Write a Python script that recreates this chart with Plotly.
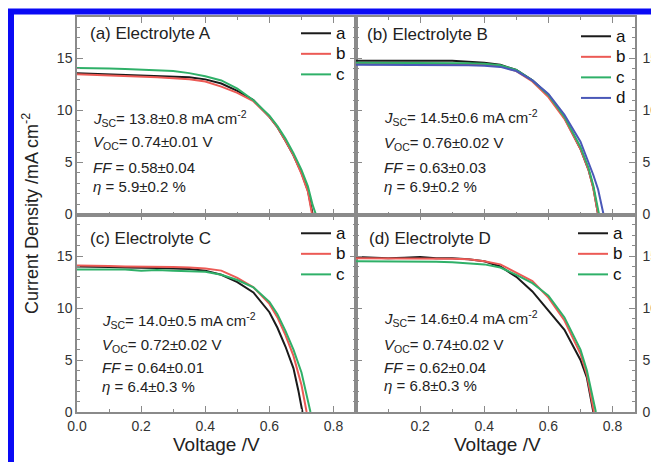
import plotly.graph_objects as go
from plotly.subplots import make_subplots

# ---------------- data ----------------
V_grid = [0.0, 0.05, 0.1, 0.15, 0.2, 0.25, 0.3, 0.35, 0.4, 0.45, 0.5, 0.55, 0.6, 0.625, 0.65, 0.675, 0.7, 0.72]

# Panel (a) Electrolyte A
A_a_V = V_grid + [0.735]
A_a_J = [13.6, 13.55, 13.5, 13.45, 13.4, 13.35, 13.3, 13.2, 13.0, 12.6, 11.9, 11.0, 9.4, 8.4, 7.1, 5.7, 4.0, 2.3, 0.0]
A_b_V = V_grid + [0.733]
A_b_J = [13.5, 13.45, 13.4, 13.35, 13.3, 13.2, 13.1, 13.0, 12.8, 12.3, 11.7, 10.9, 9.4, 8.4, 7.1, 5.7, 3.9, 2.2, 0.0]
A_c_V = V_grid + [0.735, 0.745]
A_c_J = [14.1, 14.1, 14.05, 14.0, 13.95, 13.9, 13.8, 13.6, 13.3, 12.9, 12.1, 11.0, 9.5, 8.5, 7.3, 5.9, 4.3, 2.7, 0.9, 0.0]

# Panel (b) Electrolyte B
B_V = [0.0, 0.05, 0.1, 0.15, 0.2, 0.25, 0.3, 0.35, 0.4, 0.45, 0.5, 0.55, 0.6, 0.65, 0.7, 0.725, 0.74]
B_a_V = B_V + [0.755]
B_a_J = [14.8, 14.8, 14.75, 14.8, 14.8, 14.75, 14.8, 14.7, 14.6, 14.4, 13.9, 12.9, 11.5, 9.3, 6.3, 4.3, 2.6, 0.0]
B_b_V = B_V + [0.755]
B_b_J = [14.5, 14.45, 14.5, 14.45, 14.5, 14.5, 14.45, 14.45, 14.4, 14.3, 13.8, 12.8, 11.3, 9.2, 6.3, 4.3, 2.5, 0.0]
B_c_V = B_V + [0.758]
B_c_J = [14.6, 14.6, 14.55, 14.6, 14.6, 14.55, 14.6, 14.55, 14.5, 14.35, 13.9, 12.9, 11.5, 9.4, 6.5, 4.5, 2.8, 0.0]
B_d_V = B_V + [0.755, 0.772]
B_d_J = [14.4, 14.4, 14.35, 14.4, 14.4, 14.35, 14.4, 14.35, 14.3, 14.2, 13.8, 12.9, 11.6, 9.6, 7.0, 5.1, 3.8, 2.4, 0.0]

# Panel (c) Electrolyte C
C_V = [0.0, 0.05, 0.1, 0.15, 0.2, 0.25, 0.3, 0.35, 0.4, 0.45, 0.5, 0.55, 0.6, 0.625, 0.65, 0.675]
C_a_V = C_V + [0.69, 0.703]
C_a_J = [14.0, 14.0, 13.95, 13.9, 13.9, 13.85, 13.8, 13.75, 13.6, 13.2, 12.5, 11.5, 9.6, 8.1, 6.3, 4.2, 2.1, 0.0]
C_b_V = C_V + [0.7, 0.716]
C_b_J = [14.1, 14.1, 14.05, 14.0, 14.0, 14.0, 13.95, 13.9, 13.8, 13.6, 12.9, 12.0, 10.4, 9.1, 7.4, 5.4, 2.6, 0.0]
C_c_V = C_V + [0.7, 0.728]
C_c_J = [13.7, 13.7, 13.65, 13.7, 13.6, 13.65, 13.6, 13.55, 13.5, 13.2, 12.7, 12.0, 10.6, 9.4, 7.8, 6.0, 3.8, 0.0]

# Panel (d) Electrolyte D
D_V = [0.0, 0.05, 0.1, 0.15, 0.2, 0.25, 0.3, 0.35, 0.4, 0.45, 0.5, 0.55, 0.6, 0.65, 0.7, 0.72]
D_a_V = D_V + [0.74]
D_a_J = [14.9, 14.85, 14.8, 14.85, 14.9, 14.8, 14.8, 14.7, 14.5, 14.0, 13.0, 11.6, 9.8, 7.9, 5.0, 3.3, 0.0]
D_b_V = D_V + [0.742]
D_b_J = [14.8, 14.8, 14.75, 14.8, 14.8, 14.8, 14.75, 14.7, 14.5, 14.2, 13.4, 12.6, 11.0, 8.8, 5.6, 3.6, 0.0]
D_c_V = D_V + [0.748]
D_c_J = [14.5, 14.5, 14.5, 14.45, 14.5, 14.45, 14.4, 14.3, 14.2, 13.9, 13.2, 12.4, 11.2, 9.1, 6.0, 4.0, 0.0]

panel_titles = ["(a) Electrolyte A", "(b) Electrolyte B", "(c) Electrolyte C", "(d) Electrolyte D"]
stats = [
    ["13.8±0.8", "0.74±0.01", "0.58±0.04", "5.9±0.2"],
    ["14.5±0.6", "0.76±0.02", "0.63±0.03", "6.9±0.2"],
    ["14.0±0.5", "0.72±0.02", "0.64±0.01", "6.4±0.3"],
    ["14.6±0.4", "0.74±0.02", "0.62±0.04", "6.8±0.3"],
]
x_ticks = [0.0, 0.2, 0.4, 0.6, 0.8]
y_ticks = [0, 5, 10, 15]

COLORS = {"a": "#1a1a1a", "b": "#ec5a55", "c": "#2fb068", "d": "#4a58b8"}
FONT = "Arial, Liberation Sans, sans-serif"

panels = [
    (1, 1, "legend",  [("a", A_a_V, A_a_J), ("b", A_b_V, A_b_J), ("c", A_c_V, A_c_J)]),
    (1, 2, "legend2", [("a", B_a_V, B_a_J), ("b", B_b_V, B_b_J), ("c", B_c_V, B_c_J), ("d", B_d_V, B_d_J)]),
    (2, 1, "legend3", [("a", C_a_V, C_a_J), ("b", C_b_V, C_b_J), ("c", C_c_V, C_c_J)]),
    (2, 2, "legend4", [("a", D_a_V, D_a_J), ("b", D_b_V, D_b_J), ("c", D_c_V, D_c_J)]),
]

fig = make_subplots(rows=2, cols=2, horizontal_spacing=0, vertical_spacing=0)

for row, col, leg, curves in panels:
    for name, vv, jj in curves:
        fig.add_trace(go.Scatter(x=vv, y=jj, mode="lines",
                                 name=f'<span style="font-size:17px">{name}</span>', legend=leg,
                                 line=dict(color=COLORS[name], width=2)), row=row, col=col)

W, H = 651, 462
ML, MR, MT, MB = 77, 16, 17, 50
PW, PH = W - ML - MR, H - MT - MB

def px(x):
    return (x - ML) / PW

def py(y):
    return 1 - (y - MT) / PH

axis_common = dict(showgrid=False, zeroline=False, showline=True, linecolor="#8a8a8a", linewidth=1.5,
                   mirror="allticks", ticks="inside", ticklen=6, tickwidth=1.2, tickcolor="#8a8a8a",
                   tickfont=dict(family=FONT, size=14, color="#333333"))

for i, (row, col, leg, curves) in enumerate(panels):
    xa = dict(axis_common, range=[0, 0.87], tickmode="array",
              tickvals=x_ticks if col == 1 else x_ticks[1:],
              ticktext=[f"{v:.1f}" for v in (x_ticks if col == 1 else x_ticks[1:])],
              showticklabels=(row == 2),
              minor=dict(tickmode="linear", tick0=0, dtick=0.1, ticks="inside", ticklen=3,
                         tickcolor="#8a8a8a", tickwidth=1))
    ya = dict(axis_common, range=[0, 19], tickmode="array", tickvals=y_ticks,
              ticktext=[str(v) for v in y_ticks], side=("left" if col == 1 else "right"),
              ticklabelstandoff=(3 if col == 2 else 0),
              minor=dict(tickmode="linear", tick0=0, dtick=1, ticks="inside", ticklen=3,
                         tickcolor="#8a8a8a", tickwidth=1))
    fig.update_xaxes(row=row, col=col, **xa)
    fig.update_yaxes(row=row, col=col, **ya)

# legends (position of each legend box, in pixels)
legend_pos = {
    "legend":  (296, 18),
    "legend2": (576, 21),
    "legend3": (296, 218),
    "legend4": (573, 218),
}
leg_layout = {}
for key, (lx, ly) in legend_pos.items():
    leg_layout[key] = dict(x=px(lx), y=py(ly), xanchor="left", yanchor="top",
                           bgcolor="rgba(0,0,0,0)", borderwidth=0, tracegroupgap=0,
                           font=dict(family=FONT, size=13.5, color="#111111"))

annotations = []
title_pos = [(88, 33), (365, 34), (88, 238), (367, 238)]
stat_x = [91, 382, 100, 382]
stat_y = [[118, 143, 167, 186], [117, 144, 167, 186], [320, 345, 367, 386], [318, 345, 367, 385]]
for i in range(4):
    tx, ty = title_pos[i]
    annotations.append(dict(text=panel_titles[i], x=px(tx), y=py(ty), xref="paper", yref="paper",
                            xanchor="left", yanchor="middle", showarrow=False,
                            font=dict(family=FONT, size=17, color="#222222")))
    s = stats[i]
    lines = [f"<i>J</i><sub>SC</sub>= {s[0]} mA cm<sup>-2</sup>",
             f"<i>V</i><sub>OC</sub>= {s[1]} V",
             f"<i>FF</i> = {s[2]}",
             f"<i>η</i> = {s[3]} %"]
    for k, t in enumerate(lines):
        annotations.append(dict(text=t, x=px(stat_x[i]), y=py(stat_y[i][k]), xref="paper", yref="paper",
                                xanchor="left", yanchor="middle", showarrow=False,
                                font=dict(family=FONT, size=15, color="#222222")))

annotations.append(dict(text="Current Density /mA cm<sup>-2</sup>", x=px(30), y=py(214), xref="paper",
                        yref="paper", textangle=-90, showarrow=False, xanchor="center", yanchor="middle",
                        font=dict(family=FONT, size=18, color="#222222")))
for cx in (216, 497):
    annotations.append(dict(text="Voltage /V", x=px(cx), y=py(444), xref="paper", yref="paper",
                            showarrow=False, xanchor="center", yanchor="middle",
                            font=dict(family=FONT, size=19, color="#222222")))

shapes = [dict(type="rect", xref="paper", yref="paper", x0=px(11), x1=px(W + 30), y0=py(H + 30), y1=py(11.5),
               line=dict(color="#0a0af5", width=6), fillcolor="rgba(0,0,0,0)", layer="above")]

fig.update_layout(width=W, height=H, margin=dict(l=ML, r=MR, t=MT, b=MB, autoexpand=False),
                  paper_bgcolor="white", plot_bgcolor="white", showlegend=True,
                  annotations=annotations, shapes=shapes, **leg_layout)

fig.write_html("out.html", config={"displayModeBar": False},
               post_script="document.body.style.margin='0px';")
